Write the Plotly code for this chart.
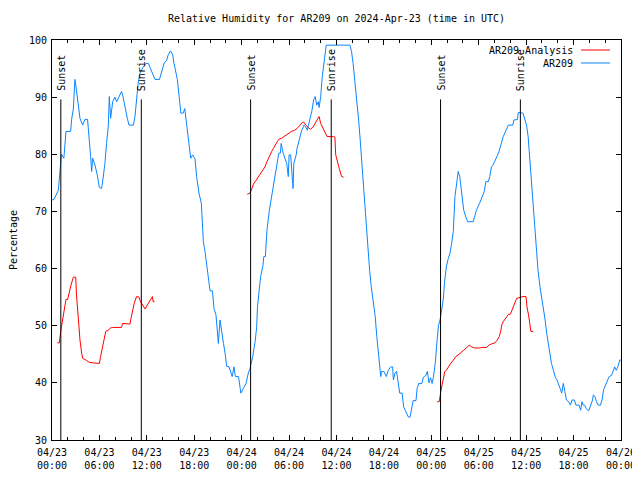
import pandas as pd
import plotly.graph_objects as go

START = pd.Timestamp("2024-04-23 00:00")

# AR209 observed relative humidity (hours since 2024-04-23 00:00 UTC, %)
blue_hours = [0.0, 0.25, 0.8, 1.0, 1.2, 1.5, 1.77, 2.36, 2.5, 2.7, 2.9, 3.04, 3.2, 3.54, 3.88, 4.17, 4.5,
              4.72, 4.89, 5.02, 5.14, 5.44, 5.73, 5.99, 6.28, 6.5, 6.7, 6.9, 7.13, 7.25, 7.42, 7.68, 7.97,
              8.18, 8.5, 8.8, 9.0, 9.24, 9.53, 9.74, 10.3, 10.5, 10.7, 10.9, 11.13, 11.55, 11.9, 12.2, 12.4,
              12.74, 13.03, 13.6, 13.88, 14.2, 14.5, 14.7, 15.0, 15.27, 15.44, 15.7, 15.86, 16.1, 16.3, 16.6,
              16.8, 17.05, 17.25, 17.55, 17.8, 18.1, 18.3, 18.6, 18.9, 19.07, 19.15, 19.36, 19.57, 19.78,
              20.0, 20.3, 20.5, 20.75, 20.9, 21.05, 21.26, 21.47, 21.7, 21.9, 22.1, 22.4, 22.6, 22.8, 23.03,
              23.2, 23.6, 23.7, 23.9, 24.2, 24.55, 24.84, 25.05, 25.4, 25.7, 25.9, 26.0, 26.2, 26.4, 26.7,
              26.8, 27.0, 27.2, 27.5, 27.7, 27.9, 28.1, 28.3, 28.5, 28.7, 28.9, 29.0, 29.25, 29.5, 29.7, 29.9,
              30.0, 30.2, 30.4, 30.5, 30.6, 30.9, 31.0, 31.3, 31.6, 31.9, 32.1, 32.3, 32.5, 32.7, 32.9, 33.1,
              33.3, 33.5, 33.7, 33.8, 34.0, 34.2, 34.4, 34.5, 34.7, 37.7, 37.9, 38.1, 38.3, 38.55, 38.8, 39.0,
              39.2, 39.4, 39.6, 39.8, 40.0, 40.2, 40.4, 40.65, 40.9, 41.1, 41.3, 41.4, 41.6, 41.7, 42.0, 42.3,
              42.55, 42.86, 43.1, 43.2, 43.4, 43.6, 43.8, 44.0, 44.3, 44.5, 44.7, 44.9, 45.1, 45.3, 45.5, 45.7,
              46.06, 46.2, 46.4, 46.8, 47.0, 47.3, 47.5, 47.7, 47.9, 48.1, 48.25, 48.5, 48.7, 48.9, 49.1, 49.3,
              49.5, 49.7, 49.9, 50.15, 50.36, 50.57, 50.78, 50.99, 51.2, 51.4, 51.6, 51.75, 51.9, 52.1, 52.35,
              52.6, 53.3, 53.5, 53.7, 54.1, 54.4, 54.7, 54.9, 55.2, 55.4, 55.6, 55.8, 56.1, 56.5, 56.8, 57.1,
              57.45, 57.75, 58.3, 58.45, 58.9, 59.0, 59.6, 59.85, 60.05, 60.25, 60.5, 60.7, 60.9, 61.1, 61.3,
              61.5, 61.75, 61.96, 62.2, 62.4, 62.6, 62.8, 63.0, 63.2, 63.45, 63.66, 63.9, 64.1, 64.3, 64.5,
              64.7, 64.9, 65.1, 65.45, 65.6, 65.8, 66.1, 66.3, 66.7, 66.9, 67.05, 67.2, 67.4, 67.6, 67.9, 68.1,
              68.4, 68.5, 68.7, 68.9, 69.1, 69.4, 69.6, 69.8, 70.05, 70.25, 70.5, 70.8, 71.0, 71.2, 71.4, 71.6,
              71.85, 72.0]
blue_values = [72, 72.1, 73.7, 76.7, 80, 79.3, 84, 84, 86.3, 87.9, 93.1, 91.8, 90, 86.3, 85.1, 86.1, 86.1,
               83.1, 79.6, 77, 79.3, 78.1, 76.4, 74.2, 74, 76.2, 78.4, 81.9, 85, 90.1, 86.3, 89.2, 90,
               89.2, 90.1, 91, 90, 88, 86.3, 85.1, 85.1, 86.6, 90, 92.4, 94.2, 95.3, 95.9, 95.9, 95.2,
               94.2, 93.1, 93.1, 94.5, 96, 96.4, 97.4, 98.1, 97.4, 95.9, 94.2, 93.1, 90, 87.2, 87.2,
               88, 85.1, 83.1, 79.3, 79.9, 79.2, 76.1, 73.2, 71.4, 67.3, 64.7, 63, 60.9, 58.9,
               56.1, 56.1, 53, 51.9, 48.4, 46.9, 51, 48.7, 46.9, 45.2, 42.9, 42.8, 42, 41.1, 42.8,
               41.1, 41.1, 39.9, 38.2, 39, 39.9, 41.7, 42.5, 44.6, 47.2, 49.8, 53.3, 56, 58.6, 60.6,
               62.1, 62.1, 66.7, 70.2, 72, 73.2, 74.9, 77, 78.7, 80.2, 80.2, 81.9, 80.2, 79, 78.4, 76.1,
               79.9, 79.9, 76.1, 74, 78.4, 79.9, 81, 82.8, 84.2, 85.1, 84.8, 84.2, 85.4, 86.3, 87.7, 89.5,
               90.1, 88.6, 89.2, 88.2, 90.1, 93.6, 95.9, 97.7, 99.1, 99.1, 98, 95.9, 93.3, 89.5, 86, 82.5,
               78.4, 74.3, 70.2, 67.5, 62.7, 59.5, 56.8, 53.9, 51.6, 48.1, 45.7, 44, 41.1, 42, 42, 41.1,
               42.2, 42.8, 42.8, 40.5, 41.7, 42, 39.9, 38.2, 38.2, 35.8, 35.2, 34.7, 34, 34, 35.2, 36.9,
               36.9, 39, 39.9, 39.9, 41, 41.3, 42, 40, 40.9, 39.9, 40.9, 43.4, 47, 50, 51, 53.3,
               54.5, 58, 60.3, 61.8, 62.7, 64.4, 66.5, 72.6, 74.9, 77, 76.1, 74.3, 72.3, 70.2, 69.1,
               68.2, 68.2, 69.1, 70.2, 71.4, 72.6, 73.5, 75.2, 75.2, 76.1, 77.8, 78.1, 79, 80.2, 81.6, 83.1,
               84.2, 85.1, 85.1, 86, 86.1, 87.3, 87.2, 86.1, 85.1, 83.1, 78.4, 73.8, 71.4, 67.8, 62.7,
               59.7, 56.8, 55.1, 53.3, 51, 48.7, 46.9, 44.6, 43.4, 42.2, 41.1, 40.5, 39.9, 39, 38.2,
               39.9, 38.5, 37, 36.6, 36.1, 37, 37, 36.1, 36.1, 35.2, 36.7, 36.1, 36.1, 35.5, 35.1, 35.8,
               37, 37.9, 37.6, 36.7, 36.1, 36.1, 37, 38.8, 39.6, 40.5, 41.1, 41.3, 42.2, 42.8, 42.2, 42.8,
               44, 44]

# AR209 Analysis (three forecast runs, None separates them)
red_hours = [0.67, 0.93, 1.1, 1.23, 1.44, 1.56, 1.77, 1.98, 2.2, 2.4, 2.7, 3.0, 3.1, 3.33, 3.54, 3.75, 3.88,
             4.3, 4.7, 5.2, 5.99, 6.15, 6.37, 6.6, 6.8, 7.1, 7.4, 7.76, 8.8, 8.94, 9.2, 9.36, 9.87, 10.0,
             10.2, 10.4, 10.7, 11.0, 11.2, 11.55, 11.8, 12.06, 12.4, 12.7, 12.8, 13.0, None,
             24.7, 25.05, 25.3, 25.5, 25.8, 26.1, 26.4, 26.65, 26.95, 27.2, 27.4, 27.6, 27.8, 28.0, 28.2,
             28.5, 28.76, 29.06, 29.35, 29.7, 30.0, 30.3, 30.7, 31.0, 31.4, 31.7, 31.9, 32.1, 32.4, 32.7,
             33.0, 33.3, 33.6, 33.8, 34.0, 34.25, 34.5, 34.8, 35.6, 35.8, 35.9, 36.1, 36.35, 36.65, 36.9, None,
             48.75, 49.0, 49.2, 49.4, 49.6, 49.7, 49.9, 50.1, 50.4, 50.8, 51.1, 51.5, 51.8, 52.1, 52.5, 52.8,
             53.1, 53.5, 54.15, 54.4, 55.0, 55.3, 55.6, 56.05, 56.35, 56.6, 56.8, 56.9, 57.1, 57.3, 57.5,
             57.75, 58.0, 58.2, 58.4, 58.6, 58.8, 59.1, 59.6, 59.98, 60.1, 60.3, 60.5, 60.6, 60.9]
red_values = [47, 47, 49, 50.1, 51.6, 53, 54.6, 54.6, 56, 57.1, 58.5, 58.5, 55.4, 51, 47.5, 45.2, 44.3,
              44, 43.6, 43.5, 43.4, 44.6, 46.3, 48.1, 49, 49.2, 49.6, 49.7, 49.7, 50.4, 50.4, 50.3, 50.3, 51.3,
              52.7, 53.9, 55.1, 55, 54.2, 53.4, 52.9, 53.6, 54.5, 55.1, 54.2, 54.2, None,
              73, 73.2, 74, 74.8, 75.4, 76, 76.5, 77, 77.8, 78.7, 79.3, 80.2, 80.5, 81, 81.6,
              82.2, 82.7, 82.8, 83.1, 83.5, 83.7, 84, 84.2, 84.5, 85.1, 85.6, 85.6, 85.1, 84.7, 84.4,
              84.7, 85.4, 86.1, 86.6, 85.4, 84.7, 84, 83.1, 83.1, 83, 79.9, 78.7, 77.5, 76.1, 76, None,
              36.7, 36.7, 38.5, 39.9, 41.1, 42, 42.2, 42.7, 43.3, 44, 44.6, 45, 45.3, 45.7, 46.2, 46.6,
              46.3, 46.1, 46.1, 46.2, 46.2, 46.6, 46.8, 47, 47.5, 48.1, 49.2, 50.1, 50.7, 51.1, 51.7,
              52, 52, 52.7, 53.4, 54.2, 54.8, 54.9, 55.1, 55.1, 53.3, 51.9, 50.4, 49, 49]

sun_times = ["2024-04-23 01:07", "2024-04-23 11:18", "2024-04-24 01:08",
             "2024-04-24 11:20", "2024-04-25 01:10", "2024-04-25 11:16"]
sun_labels = ["Sunset", "Sunrise", "Sunset", "Sunrise", "Sunset", "Sunrise"]
sun_line_range = [30, 89.6]

tick_times = ["2024-04-23 00:00", "2024-04-23 06:00", "2024-04-23 12:00", "2024-04-23 18:00",
              "2024-04-24 00:00", "2024-04-24 06:00", "2024-04-24 12:00", "2024-04-24 18:00",
              "2024-04-25 00:00", "2024-04-25 06:00", "2024-04-25 12:00", "2024-04-25 18:00",
              "2024-04-26 00:00"]
tick_labels = ["04/23<br>00:00", "04/23<br>06:00", "04/23<br>12:00", "04/23<br>18:00",
               "04/24<br>00:00", "04/24<br>06:00", "04/24<br>12:00", "04/24<br>18:00",
               "04/25<br>00:00", "04/25<br>06:00", "04/25<br>12:00", "04/25<br>18:00",
               "04/26<br>00:00"]
y_ticks = [30, 40, 50, 60, 70, 80, 90, 100]

RED = "#ff0000"
BLUE = "#0a85ff"
FONT = "DejaVu Sans Mono"


def to_dt(hours):
    return [None if h is None else START + pd.Timedelta(hours=h) for h in hours]


fig = go.Figure()
fig.add_trace(go.Scatter(x=to_dt(red_hours), y=red_values, mode="lines", name="AR209 Analysis",
                         line=dict(color=RED, width=1), connectgaps=False))
fig.add_trace(go.Scatter(x=to_dt(blue_hours), y=blue_values, mode="lines", name="AR209",
                         line=dict(color=BLUE, width=1)))

sx, sy = [], []
for t in sun_times:
    sx += [t, t, None]
    sy += [sun_line_range[0], sun_line_range[1], None]
fig.add_trace(go.Scatter(x=sx, y=sy, mode="lines", line=dict(color="black", width=1),
                         showlegend=False, hoverinfo="skip"))

for t, lab in zip(sun_times, sun_labels):
    fig.add_annotation(x=t, y=90.9, xref="x", yref="y", text=lab, showarrow=False,
                       textangle=-90, xanchor="center", yanchor="bottom", borderpad=0,
                       font=dict(family=FONT, size=10, color="black"))

# gnuplot-style key: text on the left, line sample on the right
legend_items = [("AR209 Analysis", RED, 0.975), ("AR209", BLUE, 0.9425)]
for name, col, yy in legend_items:
    fig.add_annotation(x=0.9174, y=yy, xref="paper", yref="paper", text=name, showarrow=False,
                       xanchor="right", yanchor="middle", borderpad=0,
                       font=dict(family=FONT, size=10, color="black"))
    fig.add_shape(type="line", xref="paper", yref="paper", x0=0.9297, x1=0.9807, y0=yy, y1=yy,
                  line=dict(color=col, width=1))

axis_common = dict(showline=True, linecolor="black", linewidth=1, mirror="allticks",
                   ticks="inside", tickcolor="black", showgrid=False, zeroline=False,
                   automargin=False,
                   tickfont=dict(family=FONT, size=10, color="black"))

# the page places the figure 8px from the top-left corner, so the figure is 8px smaller
fig.update_layout(
    width=632, height=472,
    margin=dict(l=44, r=19, t=32, b=40, autoexpand=False),
    paper_bgcolor="white", plot_bgcolor="white",
    showlegend=False,
    font=dict(family=FONT, size=10, color="black"),
    title=dict(text="Relative Humidity for AR209 on 2024-Apr-23 (time in UTC)",
               x=0.5, xref="paper", xanchor="center", y=0.977, yref="container", yanchor="middle",
               automargin=False,
               font=dict(family=FONT, size=10, color="black")),
    xaxis=dict(range=[tick_times[0], tick_times[-1]], tickvals=tick_times, ticktext=tick_labels,
               ticklen=5, ticklabelstandoff=3,
               minor=dict(dtick=7200000, ticklen=3, ticks="inside", tickcolor="black"),
               **axis_common),
    yaxis=dict(range=[30, 100], tickvals=y_ticks, ticklen=5, ticklabelstandoff=2,
               title=dict(text="Percentage", standoff=17, font=dict(family=FONT, size=10)),
               **axis_common),
)

fig.write_html("out.html")
